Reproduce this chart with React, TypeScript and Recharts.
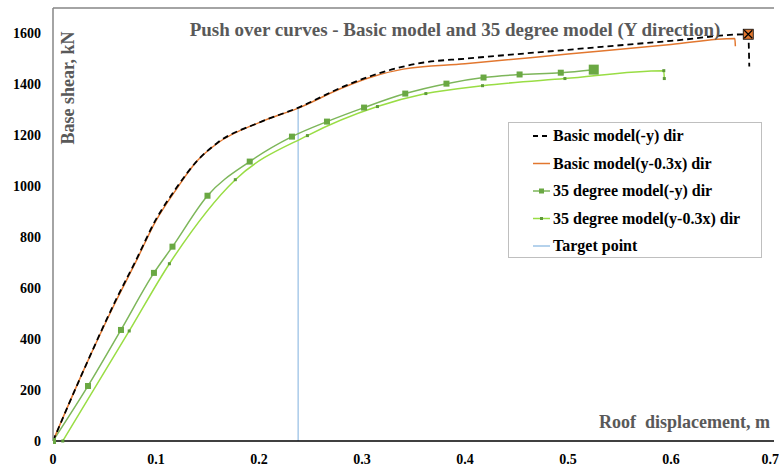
import { LineChart, Line, XAxis, YAxis, ReferenceLine } from 'recharts'

// Push over curves
const basicYDisp = [0, 0.03, 0.06, 0.08, 0.1, 0.12, 0.14, 0.16, 0.2, 0.24, 0.28, 0.31, 0.34, 0.36, 0.4, 0.5, 0.6, 0.675, 0.676]
const basicYShear = [0, 280, 545, 705, 870, 995, 1100, 1172, 1250, 1312, 1388, 1435, 1470, 1486, 1501, 1536, 1571, 1597, 1470]

const basicYXDisp = [0, 0.03, 0.06, 0.08, 0.1, 0.12, 0.14, 0.16, 0.2, 0.24, 0.28, 0.31, 0.34, 0.4, 0.5, 0.6, 0.662, 0.6625]
const basicYXShear = [0, 280, 540, 700, 865, 990, 1100, 1170, 1250, 1310, 1385, 1430, 1460, 1481, 1519, 1557, 1580, 1550]

const deg35YDisp = [0, 0.034, 0.066, 0.098, 0.116, 0.15, 0.191, 0.232, 0.266, 0.302, 0.342, 0.382, 0.418, 0.453, 0.493, 0.525]
const deg35YShear = [0, 216, 436, 660, 763, 963, 1097, 1195, 1254, 1309, 1364, 1403, 1427, 1439, 1446, 1458]

const deg35YXDisp = [0.0095, 0.074, 0.113, 0.177, 0.247, 0.315, 0.362, 0.417, 0.497, 0.593, 0.5935]
const deg35YXShear = [0, 432, 696, 1026, 1199, 1313, 1364, 1395, 1423, 1454, 1423]

const targetDisp = [0.238, 0.238]
const targetShear = [0, 1310]

const xTicks = [0, 0.1, 0.2, 0.3, 0.4, 0.5, 0.6, 0.7]
const yTicks = [0, 200, 400, 600, 800, 1000, 1200, 1400, 1600]

const legendItems = [
  'Basic model(-y) dir',
  'Basic model(y-0.3x) dir',
  '35 degree model(-y) dir',
  '35 degree model(y-0.3x) dir',
  'Target point',
]

const toPoints = (xs: number[], ys: number[]) => xs.map((x, i) => ({ x, y: ys[i] }))

const FONT = '"Liberation Serif", "Times New Roman", serif'
const ORANGE = '#E2772F'
const GREEN = '#7DB65A'
const GREEN_MARK = '#6AA843'
const LIME = '#99DD44'
const BLUE = '#9DC3E6'

const squareDot = (last: number) => (props: any) => {
  const { cx, cy, index } = props
  const s = index === last ? 10 : 6
  return <rect key={`g${index}`} x={cx - s / 2} y={cy - s / 2} width={s} height={s} fill={GREEN_MARK} />
}

const tinyDot = (props: any) => {
  const { cx, cy, index } = props
  return <rect key={`l${index}`} x={cx - 1.5} y={cy - 1.5} width={3} height={3} fill="#5E9A3A" />
}

const peakDot = (peak: number) => (props: any) => {
  const { cx, cy, index } = props
  if (index !== peak) return <g key={`b${index}`} />
  return (
    <g key={`b${index}`}>
      <rect x={cx - 5} y={cy - 5} width={10} height={10} fill={ORANGE} stroke="#000" strokeWidth={0.8} />
      <path d={`M${cx - 4},${cy - 4}L${cx + 4},${cy + 4}M${cx + 4},${cy - 4}L${cx - 4},${cy + 4}`} stroke="#000" strokeWidth={1.2} />
    </g>
  )
}

const legendIcon = (i: number, y: number) => {
  const x1 = 533
  const x2 = 550
  switch (i) {
    case 0:
      return <line x1={x1} y1={y} x2={x2} y2={y} stroke="#000" strokeWidth={2} strokeDasharray="5 4" />
    case 1:
      return <line x1={x1} y1={y} x2={x2} y2={y} stroke={ORANGE} strokeWidth={1.5} />
    case 2:
      return (
        <g>
          <line x1={x1} y1={y} x2={x2} y2={y} stroke={GREEN} strokeWidth={1.5} />
          <rect x={539} y={y - 2.5} width={5} height={5} fill={GREEN_MARK} />
        </g>
      )
    case 3:
      return (
        <g>
          <line x1={x1} y1={y} x2={x2} y2={y} stroke={LIME} strokeWidth={1.5} />
          <rect x={540} y={y - 1.5} width={3} height={3} fill="#5E9A3A" />
        </g>
      )
    default:
      return <line x1={x1} y1={y} x2={x2} y2={y} stroke={BLUE} strokeWidth={1.5} />
  }
}

export default function App() {
  const basicY = toPoints(basicYDisp, basicYShear)
  const basicYX = toPoints(basicYXDisp, basicYXShear)
  const deg35Y = toPoints(deg35YDisp, deg35YShear)
  const deg35YX = toPoints(deg35YXDisp, deg35YXShear)
  const target = toPoints(targetDisp, targetShear)

  return (
    <div style={{ position: 'absolute', left: 0, top: 0, width: 779, height: 468, background: '#fff', fontFamily: FONT }}>
      <LineChart width={779} height={468} margin={{ top: 8, right: 5, left: 0, bottom: 0 }}>
        <XAxis
          dataKey="x"
          type="number"
          domain={[0, 0.7]}
          ticks={xTicks}
          allowDataOverflow
          height={27}
          tickLine={false}
          tickMargin={7}
          axisLine={{ stroke: '#000', strokeWidth: 1.5 }}
          tick={{ fontSize: 14, fontWeight: 'bold', fill: '#000', fontFamily: FONT }}
        />
        <YAxis
          dataKey="y"
          type="number"
          domain={[0, 1700]}
          ticks={yTicks}
          width={53}
          tickLine={false}
          tickMargin={6}
          axisLine={{ stroke: '#868686', strokeWidth: 1.5 }}
          tick={{ fontSize: 14, fontWeight: 'bold', fill: '#000', fontFamily: FONT }}
        />
        <ReferenceLine y={1700} stroke="#868686" strokeWidth={1.5} ifOverflow="visible" />
        <Line data={target} dataKey="y" type="linear" stroke={BLUE} strokeWidth={1.3} dot={false} isAnimationActive={false} />
        <Line data={deg35YX} dataKey="y" type="monotone" stroke={LIME} strokeWidth={1.5} dot={tinyDot} isAnimationActive={false} />
        <Line data={deg35Y} dataKey="y" type="monotone" stroke={GREEN} strokeWidth={1.5} dot={squareDot(deg35Y.length - 1)} isAnimationActive={false} />
        <Line data={basicYX} dataKey="y" type="monotone" stroke={ORANGE} strokeWidth={1.5} dot={false} isAnimationActive={false} />
        <Line data={basicY} dataKey="y" type="monotone" stroke="#000" strokeWidth={1.8} strokeDasharray="6 4" dot={peakDot(basicY.length - 2)} isAnimationActive={false} />
      </LineChart>
      <svg width={779} height={468} style={{ position: 'absolute', left: 0, top: 0, pointerEvents: 'none' }}>
        <text x={455} y={36} textAnchor="middle" fontSize={19} fontWeight="bold" fill="#595959" fontFamily={FONT}>
          Push over curves - Basic model and 35 degree model (Y direction)
        </text>
        <text transform="translate(74,88) rotate(-90)" textAnchor="middle" fontSize={18} fontWeight="bold" fill="#595959" fontFamily={FONT}>
          Base shear, kN
        </text>
        <text x={770} y={428} textAnchor="end" fontSize={18} fontWeight="bold" fill="#595959" fontFamily={FONT} style={{ whiteSpace: 'pre' }}>
          {'Roof  displacement, m'}
        </text>
        <rect x={508.5} y={122.5} width={253} height={135} fill="#fff" stroke="#BFBFBF" />
        {legendItems.map((label, i) => {
          const y = 136 + i * 27.5
          return (
            <g key={label}>
              {legendIcon(i, y)}
              <text x={553} y={y + 5} fontSize={16} fontWeight="bold" fill="#000" fontFamily={FONT}>
                {label}
              </text>
            </g>
          )
        })}
      </svg>
    </div>
  )
}
